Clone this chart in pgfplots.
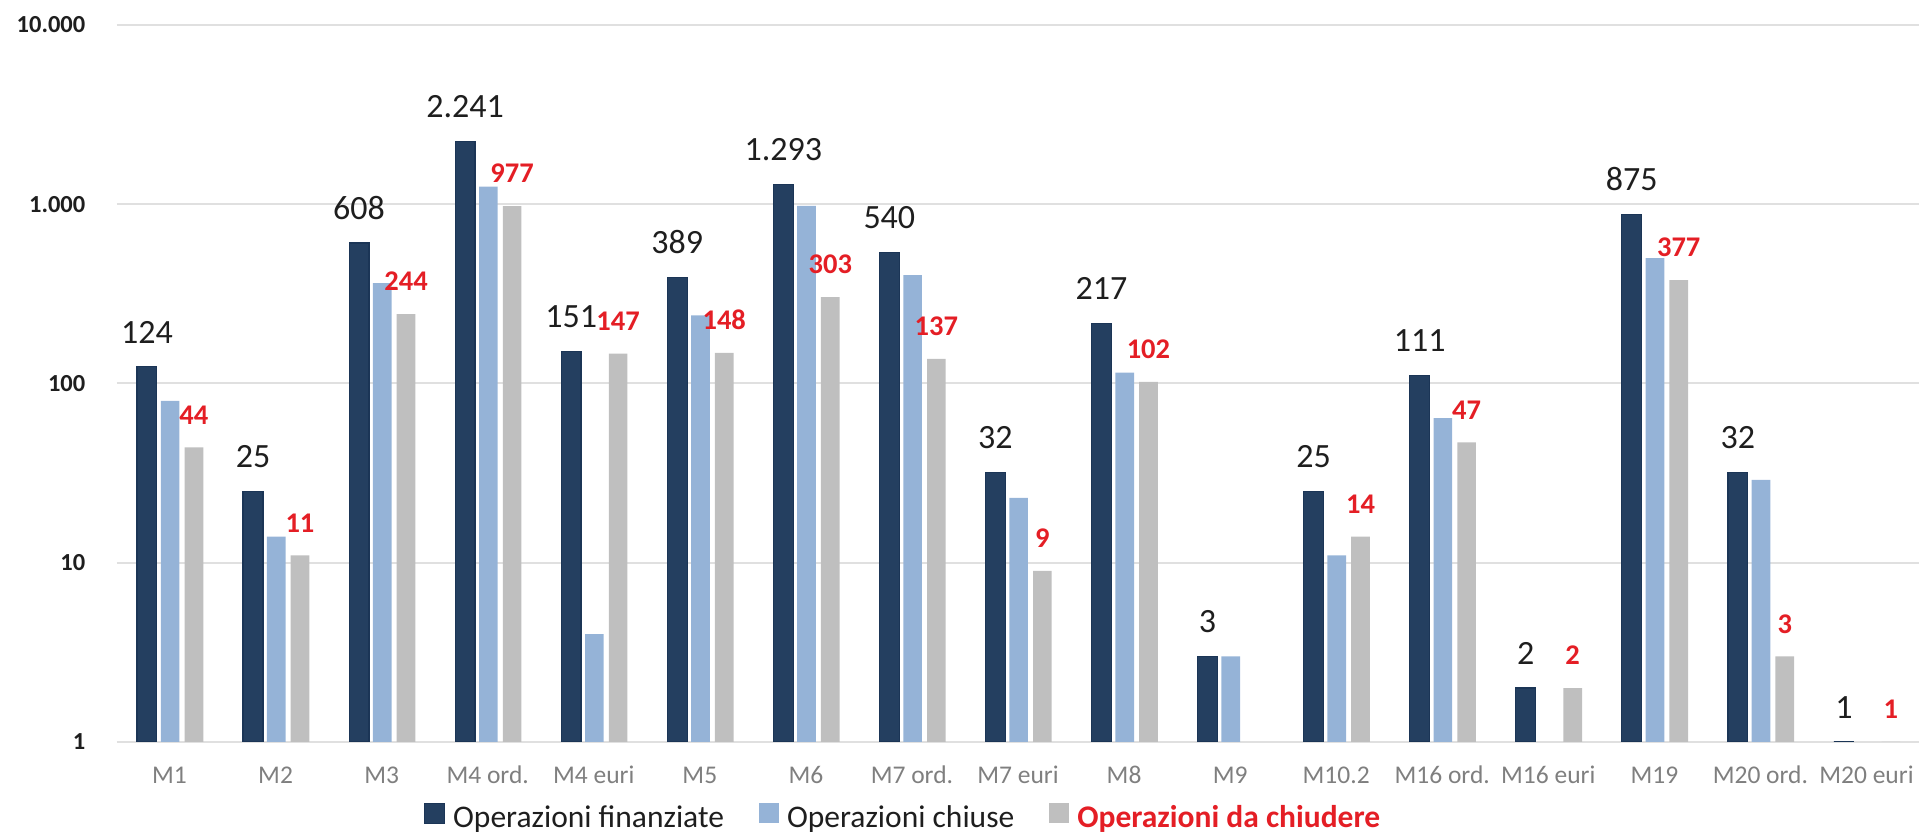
\documentclass[border=0pt]{standalone}
\usepackage{pgfplots}
\pgfplotsset{compat=1.18}
\usepackage{pgfplotstable}
\usepackage{fontspec}
\setmainfont{Carlito}
\definecolor{cdark}{HTML}{243F60}
\definecolor{cdarkline}{HTML}{1B3556}
\definecolor{clight}{HTML}{95B3D7}
\definecolor{cgray}{HTML}{BFBFBF}
\definecolor{cred}{HTML}{E41E25}
\definecolor{cgrid}{HTML}{E0E0E0}
\definecolor{ctick}{HTML}{7F7F7F}
\definecolor{ctext}{HTML}{1E1E1E}

\pgfplotstableread{
x y lab
0 124 124
1 25 25
2 608 608
3 2241 2.241
4 151 151
5 389 389
6 1293 1.293
7 540 540
8 32 32
9 217 217
10 3 3
11 25 25
12 111 111
13 2 2
14 875 875
15 32 32
16 1 1
}\finanziate

\pgfplotstableread{
x y
0 80
1 14
2 363
3 1256
4 4
5 240
6 980
7 402
8 23
9 115
10 3
11 11
12 64
14 500
15 29
}\chiuse

\pgfplotstableread{
x y lab
0 44 44
1 11 11
2 244 244
3 977 977
4 147 147
5 148 148
6 303 303
7 137 137
8 9 9
9 102 102
11 14 14
12 47 47
13 2 2
14 377 377
15 3 3
16 1 1
}\dachiudere

\pgfplotsset{
  sq legend/.style={legend image code/.code={\fill[##1] (0bp,-6bp) rectangle (20bp,14bp);}},
}

\begin{document}
\begin{tikzpicture}
\path[use as bounding box] (0,0) rectangle (1919bp,832bp);
\begin{axis}[
  at={(116.5bp,90bp)}, anchor=south west,
  scale only axis, width=1803bp, height=717bp,
  ymode=log, ymin=1, ymax=10000, log origin=0,
  xmin=-0.5, xmax=16.5,
  ybar,
  axis line style={draw=none},
  major tick length=0pt, minor tick length=0pt,
  yminorticks=false, xminorticks=false,
  tick style={draw=none},
  ytick pos=left, xtick pos=bottom,
  ymajorgrids, xmajorgrids=false,
  grid style={cgrid, line width=2bp},
  ytick={1,10,100,1000,10000},
  yticklabels={\textbf{1},\textbf{10},\textbf{100},\textbf{1.000},\textbf{10.000}},
  yticklabel style={font=\fontsize{24.5bp}{28bp}\selectfont, text=ctext, anchor=east, inner sep=0pt, xshift=-31bp},
  xtick={0,...,16},
  xticklabels={M1,M2,M3,M4 ord.,M4 euri,M5,M6,M7 ord.,M7 euri,M8,M9,M10.2,M16 ord.,M16 euri,M19,M20 ord.,M20 euri},
  xticklabel style={font=\fontsize{25.5bp}{30bp}\selectfont, text=ctick, anchor=base, inner sep=0pt, yshift=-41bp},
  legend columns=3,
  legend style={at={(0.1705,-0.103)}, anchor=west, draw=none, fill=none,
    inner sep=0pt, outer sep=0pt,
    font=\fontsize{31.5bp}{36bp}\selectfont, text=ctext,
    /tikz/every odd column/.append style={column sep=8bp},
    /tikz/every even column/.append style={column sep=35bp},
    nodes={inner sep=0pt}},
]
\addplot[fill=cdark, draw=cdarkline, line width=1.2bp, bar width=0.187, bar shift=-0.213,
  point meta=explicit symbolic, nodes near coords={\pgfplotspointmeta},
  nodes near coords style={font=\fontsize{34bp}{40bp}\selectfont, text=ctext, inner sep=0pt, yshift=23bp},
  sq legend] table[x=x, y=y, meta=lab] {\finanziate};
\addlegendentry{Operazioni finanziate}
\addplot[fill=clight, draw=none, bar width=0.176, bar shift=0.006, sq legend]
  table[x=x, y=y] {\chiuse};
\addlegendentry{Operazioni chiuse}
\addplot[fill=cgray, draw=none, bar width=0.176, bar shift=0.23,
  point meta=explicit symbolic, nodes near coords={\pgfplotspointmeta},
  nodes near coords style={font=\fontsize{28.5bp}{32bp}\selectfont\bfseries, text=cred, inner sep=0pt, yshift=23bp},
  sq legend] table[x=x, y=y, meta=lab] {\dachiudere};
\addlegendentry{\textcolor{cred}{\bfseries Operazioni da chiudere}}
\end{axis}
\end{tikzpicture}
\end{document}
